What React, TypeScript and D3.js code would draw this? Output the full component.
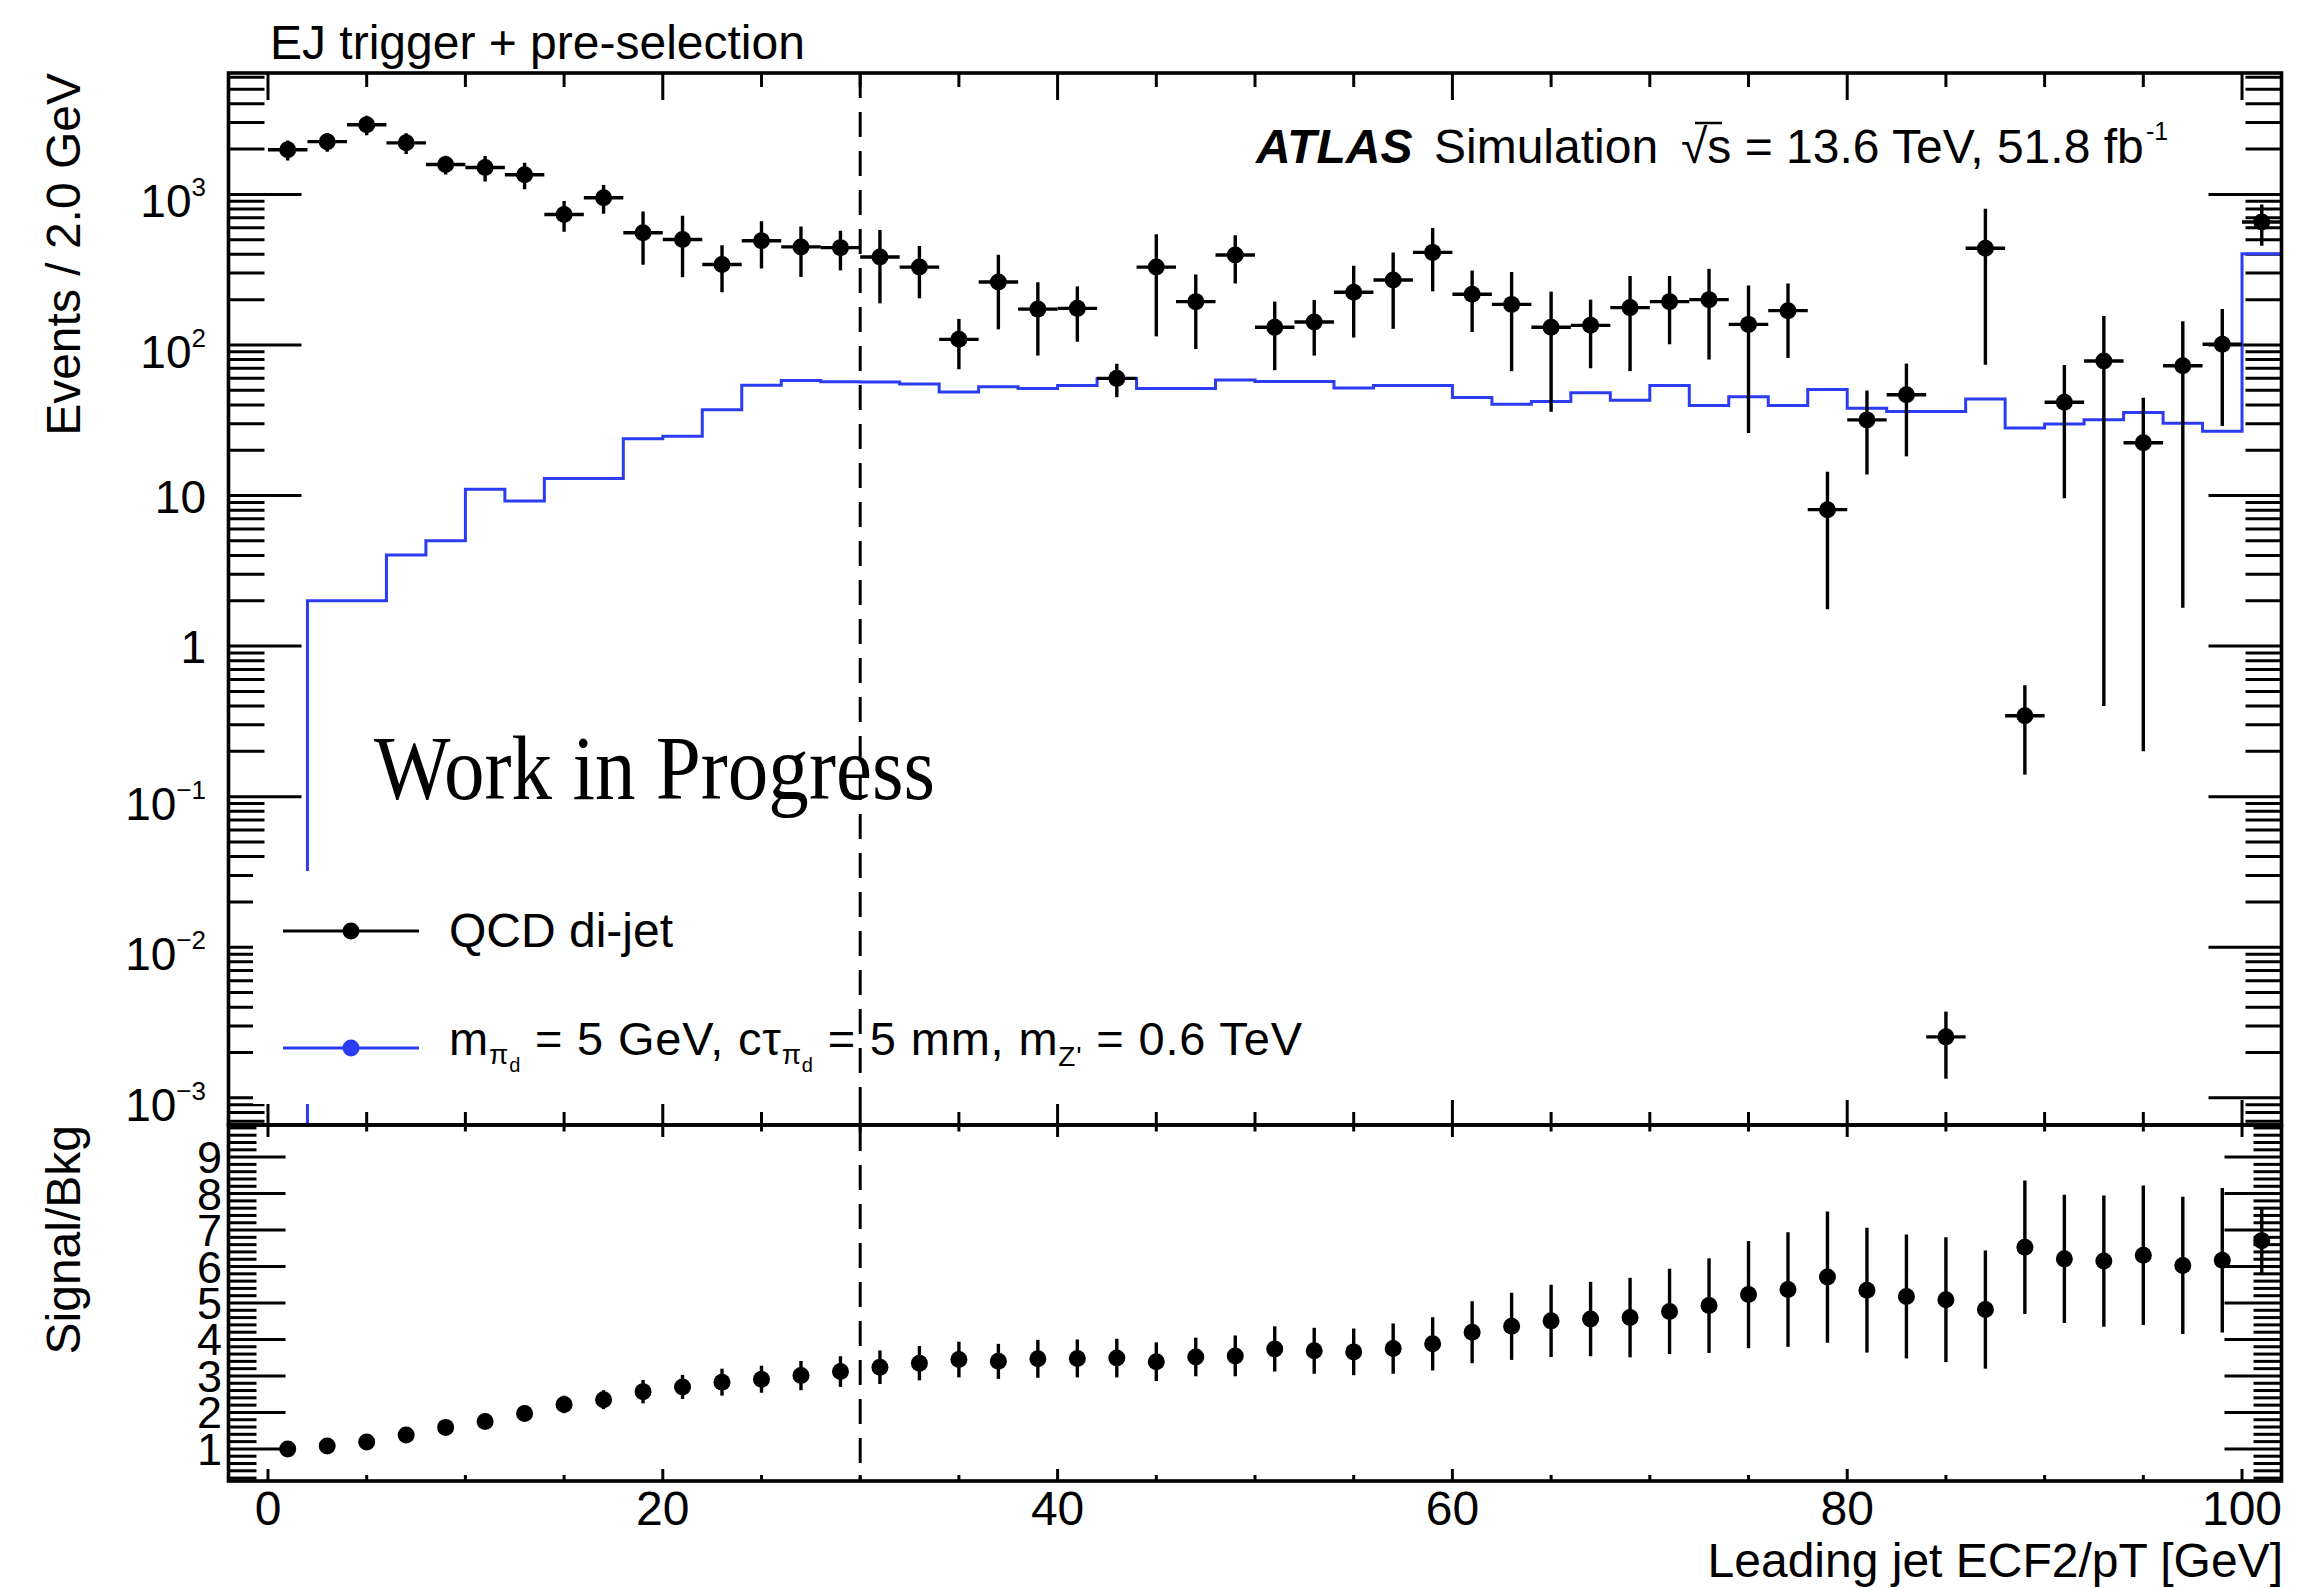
import React from 'react';
import * as d3 from 'd3';

// binning of the histogram (2 GeV bins from 0 to 102)
const binLow = 0;
const binWidth = 2;
const binCenters = d3.range(binLow + binWidth / 2, 102, binWidth);

// QCD di-jet events per bin
const qcdEvents = [
    1980, 2240, 2900, 2200, 1580, 1510, 1350, 735, 950, 556,
    502, 342, 492, 448, 443, 384, 329, 109, 262, 173,
    175, 60, 329, 194, 396, 131, 142, 224, 270, 412,
    217, 186, 131, 135, 177, 194, 200, 137, 169, 8.06,
    31.8, 46.7, 0.00254, 439, 0.345, 41.6, 78.2, 22.4, 72.8, 101,
    656,
];
const qcdErrors = [
    300, 320, 430, 345, 225, 290, 270, 170, 205, 215,
    220, 118, 170, 165, 130, 195, 125, 40, 135, 88,
    70, 15, 215, 100, 140, 63, 57, 112, 142, 185,
    95, 119, 95, 65, 110, 93, 120, 111, 87, 6.3,
    18, 28.5, 0.0012, 365, 0.205, 32, 77.8, 22.2, 71, 72,
    200,
];

// signal histogram contents
const signalEvents = [
    0, 2.0, 2.0, 4.03, 5.0, 11.0, 9.2, 13.0, 13.0, 23.8,
    24.8, 37.2, 54, 58, 57, 56.7, 55.1, 48.7, 52.8, 51.3,
    53.9, 59.8, 51.3, 51.3, 58.5, 57.3, 57.3, 51.8, 53.9, 53.9,
    44.8, 40.4, 42.1, 48.1, 43.0, 53.9, 39.6, 45.3, 39.6, 50.7,
    38.0, 36.1, 36.1, 43.8, 28.1, 29.9, 31.9, 35.6, 30.2, 26.7,
    404,
];

// signal / background ratio panel
const ratioValues = [
    1.0, 1.08, 1.19, 1.38, 1.59, 1.75, 1.97, 2.22, 2.35, 2.57,
    2.70, 2.83, 2.91, 3.01, 3.12, 3.24, 3.35, 3.45, 3.40, 3.47,
    3.48, 3.49, 3.39, 3.52, 3.55, 3.74, 3.69, 3.66, 3.75, 3.88,
    4.20, 4.36, 4.51, 4.56, 4.60, 4.77, 4.93, 5.23, 5.37, 5.71,
    5.35, 5.18, 5.09, 4.82, 6.53, 6.21, 6.15, 6.31, 6.03, 6.17,
    6.71,
];
const ratioErrors = [
    0.05, 0.06, 0.08, 0.1, 0.12, 0.15, 0.18, 0.24, 0.26, 0.32,
    0.33, 0.37, 0.37, 0.40, 0.42, 0.46, 0.47, 0.49, 0.48, 0.52,
    0.52, 0.53, 0.53, 0.53, 0.56, 0.62, 0.63, 0.64, 0.69, 0.73,
    0.85, 0.92, 0.99, 1.02, 1.09, 1.17, 1.30, 1.47, 1.57, 1.80,
    1.71, 1.70, 1.71, 1.62, 1.83, 1.76, 1.80, 1.91, 1.88, 1.98,
    0.9,
];

const xTicksMajor = [0, 20, 40, 60, 80, 100];
const xTicksMinor = [5, 10, 15, 25, 30, 35, 45, 50, 55, 65, 70, 75, 85, 90, 95];
const yTopDecades = [-3, -2, -1, 0, 1, 2, 3];
const yBottomLabels = [1, 2, 3, 4, 5, 6, 7, 8, 9];
const cutValue = 30;

const xDomain = [-2, 102];
const yTopDomain = [6.6e-4, 6400];
const yBottomDomain = [0.12, 9.88];

const F = { left: 228.5, right: 2281.5, top: 73, mid: 1125, bottom: 1481 };
const font = "'Liberation Sans', Arial, Helvetica, sans-serif";
const blue = '#2b3cf2';

export default function App() {
    const x = d3.scaleLinear().domain(xDomain).range([F.left, F.right]);
    const yT = d3.scaleLog().domain(yTopDomain).range([F.mid, F.top]);
    const yB = d3.scaleLinear().domain(yBottomDomain).range([F.bottom, F.mid]);

    // log minor ticks
    const yTopMinor: number[] = [];
    for (let d = -4; d <= 3; d++) {
        for (let k = 2; k <= 9; k++) {
            const v = k * Math.pow(10, d);
            if (v > yTopDomain[0] && v < yTopDomain[1]) yTopMinor.push(v);
        }
    }
    const yBotMinor = d3.range(1, 50).filter(i => i % 5 !== 0).map(i => i * 0.2)
        .filter(v => v > yBottomDomain[0] && v < yBottomDomain[1]);

    // signal histogram as a step line
    const steps: [number, number][] = signalEvents.map((v, i) => [binLow + i * binWidth, v] as [number, number]);
    steps.push([binLow + signalEvents.length * binWidth, signalEvents[signalEvents.length - 1]]);
    const sigLine = d3.line<[number, number]>()
        .x(d => x(d[0]))
        .y(d => (d[1] > yTopDomain[0] ? yT(d[1]) : F.mid))
        .curve(d3.curveStepAfter);

    const decadeLabel = (d: number) => {
        if (d === 0) return <tspan>1</tspan>;
        if (d === 1) return <tspan>10</tspan>;
        return (
            <>
                <tspan>10</tspan>
                <tspan fontSize={26} dy={-21}>{d < 0 ? '\u2212' + (-d) : String(d)}</tspan>
            </>
        );
    };

    const tk = { stroke: '#000', strokeWidth: 3 };

    return (
        <svg width={2315} height={1588} style={{ position: 'absolute', left: 0, top: 0, background: '#fff' }}
            fontFamily={font}>
            <defs>
                <clipPath id="clipTop"><rect x={F.left} y={F.top} width={F.right - F.left} height={F.mid - F.top} /></clipPath>
                <clipPath id="clipBot"><rect x={F.left} y={F.mid} width={F.right - F.left} height={F.bottom - F.mid} /></clipPath>
            </defs>
            <rect x={0} y={0} width={2315} height={1588} fill="#fff" />

            {/* ---- axis ticks ---- */}
            <g>
                {xTicksMajor.map(v => (
                    <g key={'xM' + v}>
                        <line x1={x(v)} x2={x(v)} y1={F.top} y2={F.top + 27} {...tk} />
                        <line x1={x(v)} x2={x(v)} y1={F.mid} y2={F.mid - 25} {...tk} />
                        <line x1={x(v)} x2={x(v)} y1={F.mid} y2={F.mid + 12} {...tk} />
                        <line x1={x(v)} x2={x(v)} y1={F.bottom} y2={F.bottom - 12} {...tk} />
                    </g>
                ))}
                {xTicksMinor.map(v => (
                    <g key={'xm' + v}>
                        <line x1={x(v)} x2={x(v)} y1={F.top} y2={F.top + 14} {...tk} />
                        <line x1={x(v)} x2={x(v)} y1={F.mid} y2={F.mid - 13} {...tk} />
                        <line x1={x(v)} x2={x(v)} y1={F.mid} y2={F.mid + 6.5} {...tk} />
                        <line x1={x(v)} x2={x(v)} y1={F.bottom} y2={F.bottom - 6} {...tk} />
                    </g>
                ))}
                {yTopDecades.map(d => (
                    <g key={'yd' + d}>
                        <line x1={F.left} x2={F.left + 73} y1={yT(Math.pow(10, d))} y2={yT(Math.pow(10, d))} {...tk} />
                        <line x1={F.right} x2={F.right - 73} y1={yT(Math.pow(10, d))} y2={yT(Math.pow(10, d))} {...tk} />
                    </g>
                ))}
                {yTopMinor.map(v => (
                    <g key={'ym' + v}>
                        <line x1={F.left} x2={F.left + 36} y1={yT(v)} y2={yT(v)} {...tk} />
                        <line x1={F.right} x2={F.right - 36} y1={yT(v)} y2={yT(v)} {...tk} />
                    </g>
                ))}
                {yBottomLabels.map(v => (
                    <g key={'yb' + v}>
                        <line x1={F.left} x2={F.left + 57} y1={yB(v)} y2={yB(v)} {...tk} />
                        <line x1={F.right} x2={F.right - 57} y1={yB(v)} y2={yB(v)} {...tk} />
                    </g>
                ))}
                {yBotMinor.map(v => (
                    <g key={'ybm' + v}>
                        <line x1={F.left} x2={F.left + 28} y1={yB(v)} y2={yB(v)} {...tk} />
                        <line x1={F.right} x2={F.right - 28} y1={yB(v)} y2={yB(v)} {...tk} />
                    </g>
                ))}
            </g>

            {/* ---- signal histogram ---- */}
            <path d={sigLine(steps) || ''} fill="none" stroke={blue} strokeWidth={3} clipPath="url(#clipTop)" />

            {/* ---- legend (white box hides what is below it) ---- */}
            <rect x={253} y={871} width={1060} height={233} fill="#fff" />
            <line x1={283} x2={419} y1={931} y2={931} stroke="#000" strokeWidth={3} />
            <circle cx={351} cy={931} r={8.5} fill="#000" />
            <text x={449} y={947} fontSize={48}>QCD di-jet</text>
            <line x1={283} x2={419} y1={1048} y2={1048} stroke={blue} strokeWidth={3} />
            <circle cx={351} cy={1048} r={8.5} fill={blue} />
            <text x={449} y={1055} fontSize={47} style={{ whiteSpace: 'pre' }} textLength={853} lengthAdjust="spacing">
                m<tspan fontSize={28} dy={9}>π</tspan><tspan fontSize={20} dy={8}>d</tspan>
                <tspan fontSize={47} dy={-17}>{' = 5 GeV, cτ'}</tspan>
                <tspan fontSize={28} dy={9}>π</tspan><tspan fontSize={20} dy={8}>d</tspan>
                <tspan fontSize={47} dy={-17}>{' = 5 mm, m'}</tspan>
                <tspan fontSize={28} dy={11}>Z'</tspan>
                <tspan fontSize={47} dy={-11}>{' = 0.6 TeV'}</tspan>
            </text>

            {/* ---- QCD points ---- */}
            <g clipPath="url(#clipTop)">
                {binCenters.map((c, i) => {
                    const v = qcdEvents[i];
                    const e = qcdErrors[i];
                    const lo = Math.max(v - e, yTopDomain[0]);
                    return (
                        <g key={'q' + i}>
                            <line x1={x(c)} x2={x(c)} y1={yT(v + e)} y2={yT(lo)} stroke="#000" strokeWidth={3.4} />
                            <line x1={x(c - binWidth / 2)} x2={x(c + binWidth / 2)} y1={yT(v)} y2={yT(v)} stroke="#000" strokeWidth={3.4} />
                            <circle cx={x(c)} cy={yT(v)} r={8.5} fill="#000" />
                        </g>
                    );
                })}
            </g>

            {/* ---- ratio points ---- */}
            <g clipPath="url(#clipBot)">
                {binCenters.map((c, i) => (
                    <g key={'r' + i}>
                        <line x1={x(c)} x2={x(c)} y1={yB(ratioValues[i] + ratioErrors[i])} y2={yB(ratioValues[i] - ratioErrors[i])}
                            stroke="#000" strokeWidth={3.4} />
                        <circle cx={x(c)} cy={yB(ratioValues[i])} r={8.5} fill="#000" />
                    </g>
                ))}
            </g>

            {/* ---- cut line ---- */}
            <line x1={x(cutValue)} x2={x(cutValue)} y1={F.top} y2={F.bottom} stroke="#000" strokeWidth={3}
                strokeDasharray="25 14" />

            {/* ---- frames ---- */}
            <rect x={F.left} y={F.top} width={F.right - F.left} height={F.mid - F.top} fill="none" stroke="#000" strokeWidth={3.6} />
            <rect x={F.left} y={F.mid} width={F.right - F.left} height={F.bottom - F.mid} fill="none" stroke="#000" strokeWidth={3.6} />

            {/* ---- tick labels ---- */}
            {yTopDecades.map(d => (
                <text key={'yl' + d} x={206} y={yT(Math.pow(10, d)) + (d === 0 || d === 1 ? 17 : 23)} fontSize={46} textAnchor="end">
                    {decadeLabel(d)}
                </text>
            ))}
            {yBottomLabels.map(v => (
                <text key={'ybl' + v} x={222} y={yB(v) + 16} fontSize={45} textAnchor="end">{v}</text>
            ))}
            {xTicksMajor.map(v => (
                <text key={'xl' + v} x={x(v)} y={1525} fontSize={48} textAnchor="middle">{v}</text>
            ))}

            {/* ---- axis titles ---- */}
            <text transform={`translate(80,${F.top}) rotate(-90)`} fontSize={48} textAnchor="end">Events / 2.0 GeV</text>
            <text transform={`translate(80,${F.mid}) rotate(-90)`} fontSize={48} textAnchor="end">Signal/Bkg</text>
            <text x={2283} y={1577} fontSize={48} textAnchor="end">Leading jet ECF2/pT [GeV]</text>

            {/* ---- labels ---- */}
            <text x={270} y={59} fontSize={48}>EJ trigger + pre-selection</text>
            <text x={1256} y={163} fontSize={48} fontWeight="bold" fontStyle="italic">ATLAS</text>
            <text x={1434} y={163} fontSize={48}>Simulation</text>
            <text x={1681} y={163} fontSize={48} style={{ whiteSpace: 'pre' }}>{'√s = 13.6 TeV, 51.8 fb'}</text>
            <line x1={1695} x2={1722} y1={123} y2={123} stroke="#000" strokeWidth={2.5} />
            <text x={2146} y={140} fontSize={25}>-1</text>
            <text x={374} y={799} fontSize={92} fontFamily="'Liberation Serif', 'Times New Roman', serif"
                textLength={561} lengthAdjust="spacingAndGlyphs">Work in Progress</text>
        </svg>
    );
}
